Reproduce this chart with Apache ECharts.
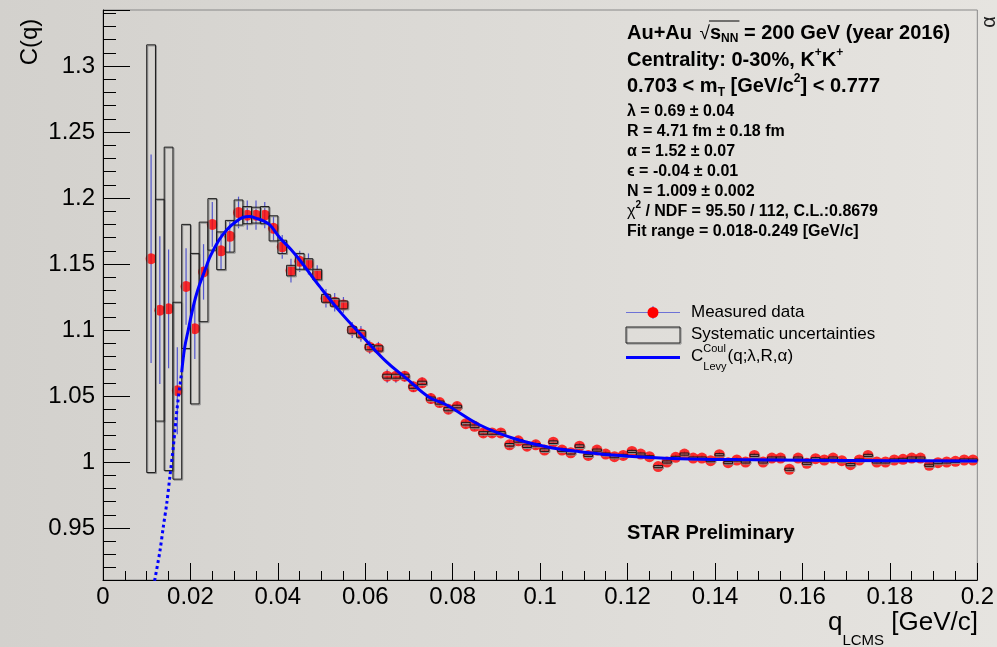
<!DOCTYPE html>
<html><head><meta charset="utf-8">
<script src="https://cdn.jsdelivr.net/npm/echarts@6/dist/echarts.min.js"></script>
<style>html,body{margin:0;padding:0;background:#dddbd7}#c{width:997px;height:647px}</style>
</head><body><div id="c"></div>
<script>
// ---- data ----
const qValues = [0.011,0.013,0.015,0.017,0.019,0.021,0.023,0.025,0.027,0.029,
  0.031,0.033,0.035,0.037,0.039,0.041,0.043,0.045,0.047,0.049,
  0.051,0.053,0.055,0.057,0.059,0.061,0.063,0.065,0.067,0.069,
  0.071,0.073,0.075,0.077,0.079,0.081,0.083,0.085,0.087,0.089,
  0.091,0.093,0.095,0.097,0.099,0.101,0.103,0.105,0.107,0.109,
  0.111,0.113,0.115,0.117,0.119,0.121,0.123,0.125,0.127,0.129,
  0.131,0.133,0.135,0.137,0.139,0.141,0.143,0.145,0.147,0.149,
  0.151,0.153,0.155,0.157,0.159,0.161,0.163,0.165,0.167,0.169,
  0.171,0.173,0.175,0.177,0.179,0.181,0.183,0.185,0.187,0.189,
  0.191,0.193,0.195,0.197,0.199];
const cValues = [1.154,1.115,1.116,1.054,1.133,1.101,1.144,1.180,1.160,1.171,
  1.189,1.187,1.187,1.187,1.177,1.163,1.145,1.152,1.150,1.142,
  1.124,1.121,1.119,1.100,1.097,1.087,1.086,1.065,1.065,1.065,
  1.057,1.060,1.048,1.045,1.040,1.042,1.029,1.027,1.022,1.022,
  1.022,1.013,1.016,1.012,1.013,1.009,1.015,1.009,1.007,1.012,
  1.005,1.009,1.006,1.004,1.005,1.008,1.006,1.004,0.9965,1.000,
  1.0035,1.006,1.003,1.003,1.001,1.0055,0.9995,1.0015,1.000,1.005,
  1.000,1.003,1.003,0.9945,1.003,0.999,1.0025,1.0015,1.003,1.001,
  0.998,1.0015,1.005,1.000,1.000,1.0015,1.002,1.003,1.003,0.9975,
  0.9995,1.000,1.0005,1.0015,1.0015];
const statErr = [0.079,0.056,0.045,0.033,0.029,0.023,0.021,0.017,0.014,0.012,
  0.012,0.011,0.011,0.010,0.009,0.009,0.009,0.008,0.008,0.007,
  0.007,0.007,0.006,0.006,0.006,0.005,0.005,0.005,0.005,0.004,
  0.004,0.004,0.004,0.0035,0.0035,0.0035,0.003,0.003,0.003,0.003,
  0.003,0.003,0.003,0.003,0.003,0.0025,0.0025,0.0025,0.0025,0.0025,
  0.0025,0.0025,0.0025,0.0025,0.0025,0.002,0.002,0.002,0.002,0.002,
  0.002,0.002,0.002,0.002,0.002,0.002,0.002,0.002,0.002,0.002,
  0.002,0.002,0.002,0.002,0.002,0.002,0.002,0.002,0.002,0.002,
  0.002,0.002,0.002,0.002,0.002,0.002,0.002,0.002,0.002,0.002,
  0.002,0.002,0.002,0.002,0.002];
const sysErr = [0.162,0.084,0.1225,0.067,0.047,0.057,0.0377,0.0195,0.0143,0.012,
  0.0095,0.0065,0.006,0.0065,0.0095,0.005,0.004,0.006,0.004,0.004,
  0.003,0.003,0.003,0.0025,0.0025,0.002,0.002,0.0015,0.0015,0.0015,
  0.0012,0.0012,0.0012,0.0012,0.0012,0.001,0.001,0.001,0.001,0.001,
  0.001,0.001,0.001,0.001,0.001,0.001,0.001,0.001,0.001,0.001,
  0.0008,0.0008,0.0008,0.0008,0.0008,0.0008,0.0008,0.0008,0.0008,0.0008,
  0.0008,0.0008,0.0008,0.0008,0.0008,0.0008,0.0008,0.0008,0.0008,0.0008,
  0.0008,0.0008,0.0008,0.0008,0.0008,0.0008,0.0008,0.0008,0.0008,0.0008,
  0.0008,0.0008,0.0008,0.0008,0.0008,0.0008,0.0008,0.0008,0.0008,0.0008,
  0.0008,0.0008,0.0008,0.0008,0.0008];
const fitDotted = [[0.0118,0.910],[0.0130,0.932],[0.0138,0.951],[0.0146,0.969],[0.0153,0.989],
  [0.0161,1.012],[0.0170,1.042],[0.0180,1.068]];
const fitSolid = [[0.0180,1.068],[0.0187,1.087],[0.0195,1.100],[0.0203,1.1126],[0.0212,1.125],
  [0.0222,1.1354],[0.0234,1.146],[0.0245,1.1556],[0.0265,1.168],[0.0283,1.1758],[0.0300,1.181],
  [0.0321,1.1854],[0.0335,1.186],[0.0351,1.1846],[0.0368,1.1825],[0.0382,1.1795],[0.0405,1.1697],
  [0.043,1.161],[0.045,1.153],[0.0496,1.1328],[0.0542,1.1139],[0.0587,1.0975],[0.0648,1.076],
  [0.0694,1.0634],[0.0744,1.0495],[0.0786,1.0432],[0.0862,1.028],[0.0938,1.018],[0.1014,1.0116],
  [0.109,1.0078],[0.1166,1.0053],[0.1243,1.0036],[0.1319,1.0025],[0.145,1.0018],[0.161,1.0014],
  [0.180,1.001],[0.200,1.0008]];
const xTickMin = 0, xTickMax = 0.2, xTickStep = 0.02;
const yMin = 0.9106, yMax = 1.3424;

// ---- build ----
const FONT = '"Liberation Sans", Arial, Helvetica, sans-serif';
const points = qValues.map((q, i) => [q, cValues[i], statErr[i], sysErr[i]]);
const binHalf = 0.001;

const ctx = document.createElement('canvas').getContext('2d');
function measure(t, size, bold) { ctx.font = (bold ? 'bold ' : '') + size + 'px ' + FONT; return ctx.measureText(t).width; }
// sequence of text pieces laid out left to right; y is the middle line of the main text
function seq(x, y, parts, out) {
  let cx = x;
  parts.forEach(p => {
    out.push({ type: 'text', x: cx, y: y + (p.dy || 0), z: 50,
      style: { text: p.t, font: (p.b ? 'bold ' : '') + p.s + 'px ' + FONT, fill: p.c || '#000',
               align: 'left', verticalAlign: 'middle' } });
    cx += measure(p.t, p.s, p.b) + (p.gap || 0);
  });
  return cx;
}
const g = [];
// top text block
const B1 = 20, B2 = 16;
let xs = seq(627, 33, [{t: 'Au+Au ', s: B1, b: true}], g);
const sqrtStart = xs + 2;
xs = seq(sqrtStart, 34, [{t: '\u221A', s: 19, b: false}], g);
const sStart = xs;
xs = seq(sStart, 33, [{t: 's', s: B1, b: true}, {t: 'NN', s: 12, b: true, dy: 6}], g);
g.push({ type: 'line', z: 50, shape: { x1: sStart - 1, y1: 21, x2: xs + 1, y2: 21 }, style: { stroke: '#000', lineWidth: 1 } });
seq(xs, 33, [{t: ' = 200 GeV (year 2016)', s: B1, b: true}], g);
seq(627, 60, [{t: 'Centrality: 0-30%, K', s: B1, b: true}, {t: '+', s: 12, b: true, dy: -7}, {t: 'K', s: B1, b: true}, {t: '+', s: 12, b: true, dy: -7}], g);
seq(627, 86, [{t: '0.703 < m', s: B1, b: true}, {t: 'T', s: 12, b: true, dy: 7}, {t: ' [GeV/c', s: B1, b: true}, {t: '2', s: 12, b: true, dy: -7}, {t: '] < 0.777', s: B1, b: true}], g);
const smallLines = ['\u03BB = 0.69 \u00B1 0.04', 'R = 4.71 fm \u00B1 0.18 fm', '\u03B1 = 1.52 \u00B1 0.07', '\u03F5 = -0.04 \u00B1 0.01', 'N = 1.009 \u00B1 0.002'];
smallLines.forEach((t, i) => seq(627, 112 + i * 19.9, [{t: t, s: B2, b: true}], g));
seq(627, 211.5, [{t: '\u03C7', s: B2, b: false}, {t: '2', s: 10, b: true, dy: -6}, {t: ' / NDF = 95.50 / 112, C.L.:0.8679', s: B2, b: true}], g);
seq(627, 231.5, [{t: 'Fit range = 0.018-0.249 [GeV/c]', s: B2, b: true}], g);
seq(627, 533, [{t: 'STAR Preliminary', s: 20, b: true}], g);

// legend
g.push({ type: 'line', z: 50, shape: { x1: 626, y1: 312.5, x2: 680, y2: 312.5 }, style: { stroke: '#6d72d6', lineWidth: 1.2 } });
g.push({ type: 'line', z: 50, shape: { x1: 653, y1: 306, x2: 653, y2: 319 }, style: { stroke: '#6d72d6', lineWidth: 1.2 } });
g.push({ type: 'circle', z: 51, shape: { cx: 653, cy: 312.5, r: 5.5 }, style: { fill: '#ff0000' } });
g.push({ type: 'rect', z: 50, shape: { x: 627, y: 328, width: 54, height: 16 }, style: { fill: 'none', stroke: '#8a8a8a', lineWidth: 1 } });
g.push({ type: 'rect', z: 50, shape: { x: 626, y: 327, width: 54, height: 16 }, style: { fill: 'none', stroke: '#222', lineWidth: 1 } });
g.push({ type: 'line', z: 50, shape: { x1: 626, y1: 357.5, x2: 680, y2: 357.5 }, style: { stroke: '#0000ff', lineWidth: 3 } });
seq(691, 312, [{t: 'Measured data', s: 17}], g);
seq(691, 334, [{t: 'Systematic uncertainties', s: 17}], g);
let xc = seq(691, 356, [{t: 'C', s: 17}], g);
seq(xc, 349, [{t: 'Coul', s: 11}], g);
const xl = seq(xc, 367, [{t: 'Levy', s: 11}], g);
seq(Math.max(xl, xc + measure('Coul', 11)) + 1, 356, [{t: '(q;\u03BB,R,\u03B1)', s: 17}], g);

// axis titles
g.push({ type: 'text', x: 30, y: 42, rotation: Math.PI / 2, z: 50,
  style: { text: 'C(q)', font: '24px ' + FONT, fill: '#000', align: 'center', verticalAlign: 'middle' } });
const wq = measure('q', 26) + measure('LCMS', 15) + measure(' [GeV/c]', 26);
seq(978 - wq, 623, [{t: 'q', s: 26}, {t: 'LCMS', s: 15, dy: 18}, {t: ' [GeV/c]', s: 26}], g);
// clipped alpha at top right
g.push({ type: 'text', x: 989, y: 22, rotation: Math.PI / 2, z: 50,
  style: { text: '\u03B1', font: '20px ' + FONT, fill: '#222', align: 'center', verticalAlign: 'middle' } });

const chart = echarts.init(document.getElementById('c'), null, { renderer: 'canvas' });
chart.setOption({
  animation: false,
  backgroundColor: { type: 'linear', x: 0, y: 0, x2: 1, y2: 0,
    colorStops: [{ offset: 0, color: '#d3d1cd' }, { offset: 1, color: '#e6e4e0' }] },
  grid: { left: 103, right: 19, top: 10, bottom: 67, show: true, borderColor: '#888', borderWidth: 1, backgroundColor: 'transparent' },
  xAxis: {
    type: 'value', min: xTickMin, max: xTickMax, interval: xTickStep,
    axisLine: { show: true, onZero: false, lineStyle: { color: '#000', width: 1 } },
    axisTick: { show: true, inside: true, length: 17, lineStyle: { color: '#000' } },
    minorTick: { show: true, splitNumber: 4, length: 9, lineStyle: { color: '#000' } },
    splitLine: { show: false },
    axisLabel: { fontFamily: FONT, fontSize: 24, color: '#000', margin: 5,
      formatter: v => String(+v.toFixed(3)) }
  },
  yAxis: {
    type: 'value', min: yMin, max: yMax, splitNumber: 8,
    axisLine: { show: true, onZero: false, lineStyle: { color: '#000', width: 1 } },
    axisTick: { show: true, inside: true, length: 27, lineStyle: { color: '#000' } },
    minorTick: { show: true, splitNumber: 5, length: 13, lineStyle: { color: '#000' } },
    splitLine: { show: false },
    axisLabel: { fontFamily: FONT, fontSize: 24, color: '#000', margin: 8, showMinLabel: false, showMaxLabel: false,
      formatter: v => String(+v.toFixed(3)) }
  },
  series: [
    { type: 'custom', name: 'stat', clip: true, z: 2, data: points,
      renderItem: (p, api) => {
        const x = api.value(0), y = api.value(1), e = api.value(2);
        const a = api.coord([x, y + e]), b = api.coord([x, y - e]);
        return { type: 'line', shape: { x1: a[0], y1: a[1], x2: b[0], y2: b[1] }, style: { stroke: '#3b40cc', lineWidth: 1.2, opacity: 0.85 } };
      } },
    { type: 'scatter', name: 'Measured data', z: 3, data: points.map(p => [p[0], p[1]]),
      symbol: 'circle', symbolSize: 11, itemStyle: { color: '#ff0000' } },
    { type: 'custom', name: 'sys', clip: true, z: 4, data: points,
      renderItem: (p, api) => {
        const x = api.value(0), y = api.value(1), s = api.value(3);
        const a = api.coord([x - binHalf, y + s]), b = api.coord([x + binHalf, y - s]);
        const w = b[0] - a[0], h = Math.max(b[1] - a[1], 1.5);
        return { type: 'group', children: [
          { type: 'rect', shape: { x: a[0] + 1, y: a[1] + 1, width: w, height: h }, style: { fill: 'none', stroke: '#8a8a8a', lineWidth: 1 } },
          { type: 'rect', shape: { x: a[0], y: a[1], width: w, height: h }, style: { fill: 'none', stroke: '#1a1a1a', lineWidth: 1 } }
        ] };
      } },
    { type: 'line', name: 'fitDotted', z: 5, data: fitDotted, smooth: 0.3, showSymbol: false, symbol: 'none',
      lineStyle: { color: '#0000ff', width: 3, type: [3, 3] } },
    { type: 'line', name: 'fit', z: 5, data: fitSolid, smooth: 0.4, showSymbol: false, symbol: 'none',
      lineStyle: { color: '#0000ff', width: 3 } }
  ],
  graphic: { elements: g }
});
</script></body></html>
